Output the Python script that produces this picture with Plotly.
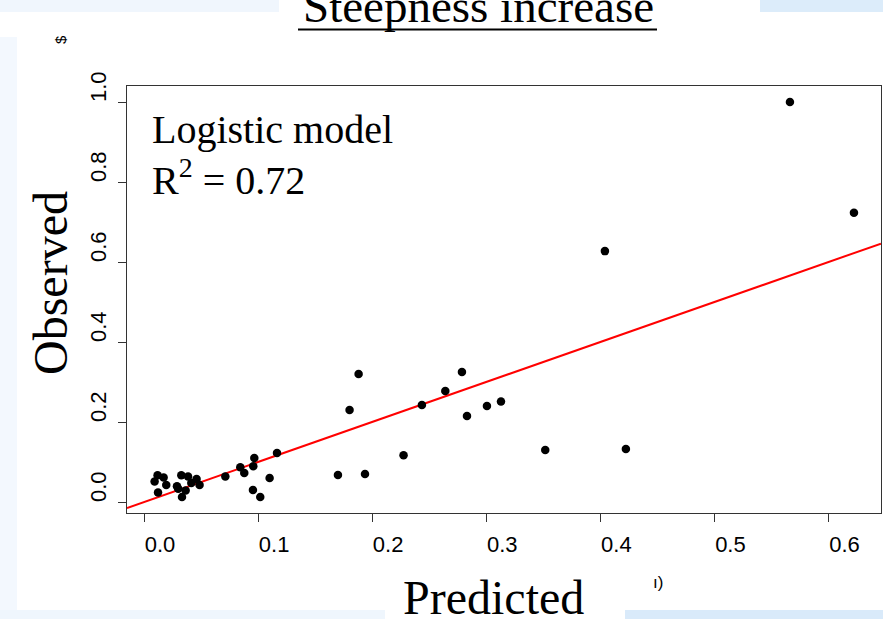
import plotly.graph_objects as go

# ---- data ----
predicted = [0.0119, 0.0093, 0.0172, 0.0195, 0.0123, 0.0289, 0.0300, 0.0327, 0.0386,
             0.0333, 0.0365, 0.0461, 0.0487, 0.0415, 0.0713, 0.0844, 0.0879, 0.0967,
             0.0958, 0.0955, 0.1019, 0.1101, 0.1166, 0.1700, 0.1937, 0.1802, 0.1881,
             0.2275, 0.2436, 0.2641, 0.2787, 0.2831, 0.3006, 0.3129, 0.3517, 0.4224,
             0.4040, 0.5662, 0.6223]
observed = [0.0668, 0.0510, 0.0610, 0.0426, 0.0235, 0.0393, 0.0330, 0.0668, 0.0635,
            0.0125, 0.0285, 0.0576, 0.0426, 0.0476, 0.0635, 0.0868, 0.0726, 0.1100,
            0.0893, 0.0300, 0.0125, 0.0600, 0.1226, 0.0676, 0.0700, 0.2302, 0.3202,
            0.1168, 0.2427, 0.2777, 0.3252, 0.2152, 0.2402, 0.2512, 0.1301, 0.1326,
            0.6272, 1.0000, 0.7230]
fit_intercept = 0.0
fit_slope = 1.0
x_ticks = [0.0, 0.1, 0.2, 0.3, 0.4, 0.5, 0.6]
y_ticks = [0.0, 0.2, 0.4, 0.6, 0.8, 1.0]
x_tick_labels = ["0.0", "0.1", "0.2", "0.3", "0.4", "0.5", "0.6"]
y_tick_labels = ["0.0", "0.2", "0.4", "0.6", "0.8", "1.0"]
title_text = "Steepness increase"
x_title = "Predicted"
y_title = "Observed"
model_text = "Logistic model"
r2_text = "R<sup>2</sup> = 0.72"

# ---- layout geometry ----
W, H = 883, 619
ML, MR, MT, MB = 127, 2, 86, 106
PW, PH = W - ML - MR, H - MT - MB
xr = [-0.0149, 0.646]
yr = [-0.0275, 1.040]
# in the slide the tick labels sit slightly off their ticks (pixels)
X_LABEL_SHIFT_PX = 16
Y_LABEL_SHIFT_PX = 12
dx = X_LABEL_SHIFT_PX * (xr[1] - xr[0]) / PW
dy = Y_LABEL_SHIFT_PX * (yr[1] - yr[0]) / PH


def px(xp):
    return (xp - ML) / PW


def py(yp):
    return (H - MB - yp) / PH


fig = go.Figure()

fit_x = list(xr)
fit_y = [fit_intercept + fit_slope * v for v in fit_x]
fig.add_trace(go.Scatter(x=fit_x, y=fit_y, mode="lines",
                         line=dict(color="#ff0000", width=2), hoverinfo="skip"))
fig.add_trace(go.Scatter(x=predicted, y=observed, mode="markers",
                         marker=dict(color="black", size=8.5, line=dict(width=0))))

serif = "Liberation Serif, Times New Roman, serif"
sans = "Liberation Sans, Arial, sans-serif"

shapes = []


def rect(x0, y0, x1, y1, color):
    shapes.append(dict(type="rect", xref="paper", yref="paper", layer="below",
                       x0=px(x0), x1=px(x1), y0=py(y1), y1=py(y0),
                       fillcolor=color, line=dict(width=0)))


# slide background fragments (light blue)
rect(0, 0, 279, 12, "#f0f6fd")
rect(760, 0, 883, 12, "#dcecfa")
rect(0, 37, 17, 619, "#f3f8fe")
rect(0, 610, 385, 619, "#eff6fd")
rect(625, 610, 883, 619, "#d9eafa")

# title underline
shapes.append(dict(type="line", xref="paper", yref="paper",
                   x0=px(298), x1=px(657), y0=py(29.5), y1=py(29.5),
                   line=dict(color="black", width=2)))

annotations = [
    dict(text=title_text, xref="paper", yref="paper", x=px(478), y=py(34),
         xanchor="center", yanchor="bottom", showarrow=False,
         font=dict(family=serif, size=47, color="black")),
    dict(text=y_title, xref="paper", yref="paper", x=px(50), y=py(283),
         xanchor="center", yanchor="middle", textangle=-90, showarrow=False,
         font=dict(family=serif, size=48, color="black")),
    dict(text=x_title, xref="paper", yref="paper", x=px(493), y=py(597),
         xanchor="center", yanchor="middle", showarrow=False,
         font=dict(family=serif, size=48, color="black")),
    dict(text=model_text, xref="paper", yref="paper", x=px(150), y=py(129),
         xanchor="left", yanchor="middle", showarrow=False,
         font=dict(family=serif, size=40, color="black")),
    dict(text=r2_text, xref="paper", yref="paper", x=px(150), y=py(177),
         xanchor="left", yanchor="middle", showarrow=False,
         font=dict(family=serif, size=40, color="black")),
    dict(text="$", xref="paper", yref="paper", x=px(60), y=py(40),
         xanchor="center", yanchor="middle", textangle=-90, showarrow=False,
         font=dict(family=sans, size=15, color="black")),
    dict(text="ı)", xref="paper", yref="paper", x=px(658), y=py(582),
         xanchor="center", yanchor="middle", showarrow=False,
         font=dict(family=sans, size=17, color="black")),
]

line_col = "#333333"
tick_font = dict(family=sans, size=22, color="black")
box_axis = dict(showgrid=False, zeroline=False, showline=True, mirror=True,
                linecolor=line_col, linewidth=1, ticks="outside", ticklen=8,
                tickwidth=1, tickcolor=line_col, showticklabels=False)
label_axis = dict(showgrid=False, zeroline=False, showline=False, ticks="",
                  tickfont=tick_font, ticklabelstandoff=16)

fig.update_layout(
    width=W, height=H,
    margin=dict(l=ML, r=MR, t=MT, b=MB, pad=0),
    paper_bgcolor="white", plot_bgcolor="white",
    showlegend=False,
    xaxis=dict(range=xr, tickvals=x_ticks, **box_axis),
    yaxis=dict(range=yr, tickvals=y_ticks, **box_axis),
    xaxis2=dict(range=xr, overlaying="x", side="bottom", anchor="y",
                tickvals=[v + dx for v in x_ticks], ticktext=x_tick_labels,
                **label_axis),
    yaxis2=dict(range=yr, overlaying="y", side="left", anchor="x",
                tickvals=[v + dy for v in y_ticks], ticktext=y_tick_labels,
                tickangle=-90, **label_axis),
    shapes=shapes,
    annotations=annotations,
)
# invisible trace to activate the label axes
fig.add_trace(go.Scatter(x=[xr[0]], y=[yr[0]], xaxis="x2", yaxis="y2",
                         mode="markers", marker=dict(opacity=0), hoverinfo="skip"))

fig.write_html("out.html",
               config={"displayModeBar": False},
               post_script="document.body.style.margin='0';"
                           "document.body.style.overflow='hidden';")
